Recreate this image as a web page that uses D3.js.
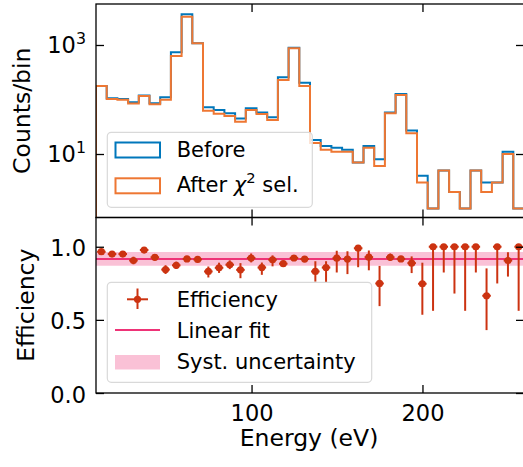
<!DOCTYPE html>
<html><head><meta charset="utf-8">
<script src="https://cdn.jsdelivr.net/npm/d3@7"></script>
<style>body{margin:0;background:#fff} svg{display:block;font-family:"DejaVu Sans",sans-serif}</style>
</head><body><svg id="c" width="523" height="467"></svg>
<script>
// ---------------- data ----------------
const binEdges = [9.00, 15.26, 21.52, 27.78, 34.04, 40.30, 46.56, 52.82, 59.08, 65.34,
  71.60, 77.86, 84.12, 90.38, 96.64, 102.90, 109.16, 115.42, 121.68, 127.94,
  134.20, 140.46, 146.72, 152.98, 159.24, 165.50, 171.76, 178.02, 184.28, 190.54,
  196.80, 203.06, 209.32, 215.58, 221.84, 228.10, 234.36, 240.62, 246.88, 253.14, 259.40];
const countsBefore = [177, 105, 102, 89, 119, 85, 110, 735, 3660, 1075,
  72, 64, 56, 45, 69, 58, 47, 255, 891, 203,
  18, 14, 13, 12, 7, 14, 8, 58, 126, 27,
  4, 1, 5, 2, 1, 5, 3, 3, 11, 1];
const countsAfter = [177, 102, 99, 84, 116, 82, 99, 628, 3300, 1075,
  62, 55, 50, 39, 64, 54, 42, 228, 869, 177,
  16, 12, 11, 11, 7, 13, 6, 56, 121, 24,
  3, 1, 5, 2, 1, 5, 2, 3, 10, 1];
const efficiency = [0.966, 0.950, 0.950, 0.906, 0.977, 0.928, 0.844, 0.873, 0.917, 0.913,
  0.831, 0.856, 0.877, 0.842, 0.923, 0.858, 0.911, 0.884, 0.923, 0.916,
  0.831, 0.858, 0.922, 0.916, 0.99, 0.929, 0.749, 0.928, 0.917, 0.888,
  0.747, 1, 1, 1, 1, 1, 0.665, 1, 0.906, 1];
const effErrLow = [0.015, 0.015, 0.015, 0.026, 0.015, 0.02, 0.03, 0.025, 0.02, 0.02,
  0.041, 0.035, 0.03, 0.057, 0.03, 0.05, 0.045, 0.02, 0.02, 0.02,
  0.07, 0.105, 0.098, 0.103, 0.13, 0.09, 0.155, 0.025, 0.02, 0.068,
  0.212, 0.438, 0.176, 0.32, 0.438, 0.176, 0.235, 0.251, 0.11, 0.438];
const effErrHigh = [0.015, 0.015, 0.015, 0.026, 0.015, 0.02, 0.03, 0.025, 0.02, 0.02,
  0.034, 0.035, 0.03, 0.046, 0.03, 0.034, 0.03, 0.02, 0.02, 0.02,
  0.07, 0.043, 0.05, 0.053, 0.01, 0.046, 0.12, 0.025, 0.02, 0.046,
  0.144, 0, 0, 0, 0, 0, 0.187, 0, 0.057, 0];
const effXErr = 2.5;
const fitIntercept = 0.917, fitSlope = 0.0, systUnc = 0.047;
const xTicks = [100, 200];
const countTicks = [10, 1000];
const effTicks = [0, 0.5, 1.0];
const histLabels = ["Before", "After"];
const effLabels = ["Efficiency", "Linear fit", "Syst. uncertainty"];
const xLabel = "Energy (eV)", yTopLabel = "Counts/bin", yBotLabel = "Efficiency";

// ---------------- style ----------------
const C_BLUE = "#0077BB", C_ORANGE = "#EE7733", C_RED = "#CC3311", C_MAG = "#EE3377";
const FONT = "DejaVu Sans";
const L = 96, R = 524, T1 = 4, B1 = 217.5, T2 = 217.5, B2 = 393;

const svg = d3.select("#c");
const x = d3.scaleLinear().domain([binEdges[0], binEdges[binEdges.length - 1]]).range([L, R]);
const yTop = d3.scaleLog().domain([Math.pow(10, -0.165), Math.pow(10, 3.752)]).range([B1, T1]);
const yBot = d3.scaleLinear().domain([0, 1.2]).range([B2, T2]);

const defs = svg.append("defs");
defs.append("clipPath").attr("id", "cp1").append("rect").attr("x", L).attr("y", T1).attr("width", R - L).attr("height", B1 - T1);
defs.append("clipPath").attr("id", "cp2").append("rect").attr("x", L).attr("y", T2).attr("width", R - L).attr("height", B2 - T2);

// ---------------- top panel: step histograms ----------------
const gTop = svg.append("g").attr("clip-path", "url(#cp1)");
function stepPoints(counts) {
  const pts = [[x(binEdges[0]), B1 + 20]];
  counts.forEach((c, i) => {
    pts.push([x(binEdges[i]), yTop(c)]);
    pts.push([x(binEdges[i + 1]), yTop(c)]);
  });
  pts.push([x(binEdges[binEdges.length - 1]), B1 + 20]);
  return pts;
}
const line = d3.line();
[[countsBefore, C_BLUE], [countsAfter, C_ORANGE]].forEach(([cs, col]) => {
  gTop.append("path").attr("d", line(stepPoints(cs))).attr("fill", "none")
    .attr("stroke", col).attr("stroke-width", 2).attr("stroke-linejoin", "miter");
});

// ---------------- bottom panel ----------------
const gBot = svg.append("g").attr("clip-path", "url(#cp2)");
const xd = x.domain();
const fitAt = e => fitIntercept + fitSlope * e;
gBot.append("path")
  .attr("d", d3.area().x(d => x(d)).y0(d => yBot(fitAt(d) - systUnc)).y1(d => yBot(fitAt(d) + systUnc))(xd))
  .attr("fill", C_MAG).attr("fill-opacity", 0.3);
gBot.append("path").attr("d", d3.line().x(d => x(d)).y(d => yBot(fitAt(d)))(xd))
  .attr("stroke", C_MAG).attr("stroke-width", 2).attr("fill", "none");

const centers = efficiency.map((v, i) => (binEdges[i] + binEdges[i + 1]) / 2);
const eg = gBot.append("g");
efficiency.forEach((v, i) => {
  const cx = x(centers[i]);
  eg.append("line").attr("x1", cx).attr("x2", cx).attr("y1", yBot(v - effErrLow[i])).attr("y2", yBot(v + effErrHigh[i]))
    .attr("stroke", C_RED).attr("stroke-width", 2);
  eg.append("line").attr("x1", x(centers[i] - effXErr)).attr("x2", x(centers[i] + effXErr)).attr("y1", yBot(v)).attr("y2", yBot(v))
    .attr("stroke", C_RED).attr("stroke-width", 2);
  eg.append("circle").attr("cx", cx).attr("cy", yBot(v)).attr("r", 3.6).attr("fill", C_RED);
});

// ---------------- axes ----------------
function styleAxis(g, withText) {
  g.select(".domain").remove();
  g.selectAll(".tick line").attr("stroke", "#000").attr("stroke-width", 1.3);
  g.selectAll("text").attr("font-size", 22.5).attr("font-family", FONT).attr("fill", "#000");
  if (!withText) g.selectAll("text").remove();
}
const TS = -8;
styleAxis(svg.append("g").attr("transform", `translate(0,${T1})`).call(d3.axisTop(x).tickValues(xTicks).tickSize(TS)), false);
styleAxis(svg.append("g").attr("transform", `translate(0,${B1})`).call(d3.axisBottom(x).tickValues(xTicks).tickSize(TS)), false);
styleAxis(svg.append("g").attr("transform", `translate(0,${T2})`).call(d3.axisTop(x).tickValues(xTicks).tickSize(TS)), false);
styleAxis(svg.append("g").attr("transform", `translate(0,${B2})`).call(d3.axisBottom(x).tickValues(xTicks).tickSize(TS).tickPadding(12.5).tickFormat(d3.format("d"))), true);

styleAxis(svg.append("g").attr("transform", `translate(${L},0)`).call(d3.axisLeft(yTop).tickValues(countTicks).tickSize(TS).tickFormat(() => "")), false);
styleAxis(svg.append("g").attr("transform", `translate(${R},0)`).call(d3.axisRight(yTop).tickValues(countTicks).tickSize(TS).tickFormat(() => "")), false);
const gyb = svg.append("g").attr("transform", `translate(${L},0)`).call(d3.axisLeft(yBot).tickValues(effTicks).tickSize(TS).tickPadding(10).tickFormat(d3.format(".1f")));
styleAxis(gyb, true);
gyb.selectAll("text").attr("dy", "0.4em");
styleAxis(svg.append("g").attr("transform", `translate(${R},0)`).call(d3.axisRight(yBot).tickValues(effTicks).tickSize(TS).tickFormat(() => "")), false);

// log tick labels 10^n
countTicks.forEach(t => {
  const txt = svg.append("text").attr("x", 86).attr("y", yTop(t) + 8.3).attr("text-anchor", "end")
    .attr("font-family", FONT).attr("font-size", 22.5).attr("fill", "#000");
  txt.append("tspan").text("10");
  txt.append("tspan").attr("font-size", 15.8).attr("dy", -9.5).text(String(Math.round(Math.log10(t))));
});

// spines
const sp = svg.append("g").attr("stroke", "#000").attr("stroke-width", 1.3).attr("fill", "none");
sp.append("rect").attr("x", L).attr("y", T1).attr("width", R - L).attr("height", B1 - T1);
sp.append("rect").attr("x", L).attr("y", T2).attr("width", R - L).attr("height", B2 - T2);

// axis labels
svg.append("text").attr("x", (L + R) / 2 - 1).attr("y", 446).attr("text-anchor", "middle")
  .attr("font-family", FONT).attr("font-size", 23.5).text(xLabel);
svg.append("text").attr("transform", `translate(30,${(T1 + B1) / 2}) rotate(-90)`).attr("text-anchor", "middle")
  .attr("font-family", FONT).attr("font-size", 23.5).text(yTopLabel);
svg.append("text").attr("transform", `translate(34,${(T2 + B2) / 2}) rotate(-90)`).attr("text-anchor", "middle")
  .attr("font-family", FONT).attr("font-size", 23.5).text(yBotLabel);

// ---------------- legends ----------------
function frame(x0, y0, w, h) {
  svg.append("rect").attr("x", x0).attr("y", y0).attr("width", w).attr("height", h).attr("rx", 4)
    .attr("fill", "#fff").attr("fill-opacity", 0.8).attr("stroke", "#d9d9d9").attr("stroke-width", 1.2);
}
const LF = 21;
frame(107.3, 132.3, 205, 75);
[[C_BLUE, 150], [C_ORANGE, 185.8]].forEach(([col, cy]) => {
  svg.append("rect").attr("x", 115.5).attr("y", cy - 7.5).attr("width", 44.5).attr("height", 15)
    .attr("fill", "none").attr("stroke", col).attr("stroke-width", 2);
});
svg.append("text").attr("x", 176.7).attr("y", 157.4).attr("font-family", FONT).attr("font-size", LF).text(histLabels[0]);
const t2 = svg.append("text").attr("x", 176.7).attr("y", 191.7).attr("font-family", FONT).attr("font-size", LF);
t2.append("tspan").text(histLabels[1] + " ");
t2.append("tspan").attr("font-style", "italic").text("χ");
t2.append("tspan").attr("font-size", 14.7).attr("dy", -9).text("2");
t2.append("tspan").attr("dy", 9).text(" sel.");

frame(107.3, 282.3, 264.4, 100);
// errorbar handle
svg.append("line").attr("x1", 137.5).attr("x2", 137.5).attr("y1", 288.5).attr("y2", 309).attr("stroke", C_RED).attr("stroke-width", 2);
svg.append("line").attr("x1", 127).attr("x2", 148).attr("y1", 299.3).attr("y2", 299.3).attr("stroke", C_RED).attr("stroke-width", 2);
svg.append("circle").attr("cx", 137.5).attr("cy", 299.3).attr("r", 3.6).attr("fill", C_RED);
svg.append("line").attr("x1", 115).attr("x2", 160).attr("y1", 330).attr("y2", 330).attr("stroke", C_MAG).attr("stroke-width", 2);
svg.append("rect").attr("x", 115).attr("y", 355).attr("width", 45).attr("height", 14.5).attr("fill", C_MAG).attr("fill-opacity", 0.3);
[[effLabels[0], 307.3], [effLabels[1], 338.3], [effLabels[2], 369]].forEach(([t, yb]) => {
  svg.append("text").attr("x", 176.7).attr("y", yb).attr("font-family", FONT).attr("font-size", LF).text(t);
});
</script></body></html>
